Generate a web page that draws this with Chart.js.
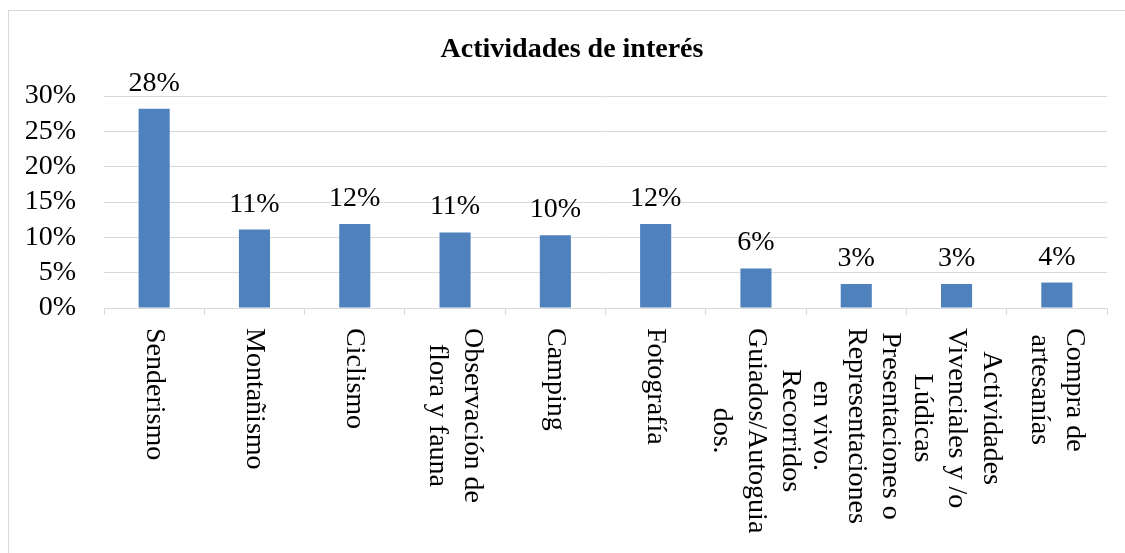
<!DOCTYPE html>
<html>
<head>
<meta charset="utf-8">
<script src="https://cdn.jsdelivr.net/npm/chart.js@4"></script>
<style>
    body { margin: 0; background: #ffffff; overflow: hidden; }
    .frame { position: absolute; left: 8px; top: 10px; width: 2000px; height: 2000px; border: 1px solid #d9d9d9; }
    .chart-container { position: absolute; left: 0; top: 0; width: 1125px; height: 553px; }
</style>
</head>
<body>
<div class="frame"></div>
<div class="chart-container"><canvas id="chart"></canvas></div>
<script>
var chartTitle = 'Actividades de interés';
var categories = [
    ['Senderismo'],
    ['Montañismo'],
    ['Ciclismo'],
    ['Observación de', 'flora y fauna'],
    ['Camping'],
    ['Fotografía'],
    ['Recorridos', 'Guiados/Autoguia', 'dos.'],
    ['Presentaciones o', 'Representaciones', 'en vivo.'],
    ['Actividades', 'Vivenciales y /o', 'Lúdicas'],
    ['Compra de', 'artesanías']
];
var values = [28.2, 11.1, 11.9, 10.7, 10.3, 11.9, 5.6, 3.4, 3.4, 3.6];
var yTicks = [0, 5, 10, 15, 20, 25, 30];

var serif = "'Liberation Serif', 'Times New Roman', serif";

// title, centred a bit left of the plot like the original
var titleText = {
    id: 'titleText',
    afterDraw: function (chart) {
        var ctx = chart.ctx;
        ctx.save();
        ctx.font = 'bold 28px ' + serif;
        ctx.fillStyle = '#000000';
        ctx.textAlign = 'center';
        ctx.textBaseline = 'alphabetic';
        ctx.fillText(chartTitle, 572, 57);
        ctx.restore();
    }
};

// value labels above each bar
var valueLabels = {
    id: 'valueLabels',
    afterDatasetsDraw: function (chart) {
        var ctx = chart.ctx;
        var meta = chart.getDatasetMeta(0);
        ctx.save();
        ctx.font = '28px ' + serif;
        ctx.fillStyle = '#000000';
        ctx.textAlign = 'center';
        ctx.textBaseline = 'alphabetic';
        meta.data.forEach(function (bar, i) {
            ctx.fillText(Math.round(values[i]) + '%', bar.x, bar.y - 18);
        });
        ctx.restore();
    }
};

// category labels turned clockwise, lines centred
var categoryLabels = {
    id: 'categoryLabels',
    afterDraw: function (chart) {
        var ctx = chart.ctx;
        var xScale = chart.scales.x;
        var lineHeight = 34.5;
        ctx.save();
        ctx.font = '28px ' + serif;
        ctx.fillStyle = '#000000';
        ctx.textAlign = 'center';
        ctx.textBaseline = 'middle';
        categories.forEach(function (lines, i) {
            var cx = xScale.getPixelForValue(i);
            var maxW = 0;
            lines.forEach(function (l) { maxW = Math.max(maxW, ctx.measureText(l).width); });
            ctx.save();
            ctx.translate(cx, xScale.top + 20);
            ctx.rotate(Math.PI / 2);
            lines.forEach(function (l, j) {
                ctx.fillText(l, maxW / 2, (j - (lines.length - 1) / 2) * lineHeight);
            });
            ctx.restore();
        });
        ctx.restore();
    }
};

window.onload = function () {
    var ctx = document.getElementById('chart').getContext('2d');
    new Chart(ctx, {
        type: 'bar',
        data: {
            labels: categories,
            datasets: [{
                data: values,
                backgroundColor: '#4f81bd',
                borderWidth: 0,
                barPercentage: 0.31,
                categoryPercentage: 1.0
            }]
        },
        options: {
            responsive: true,
            maintainAspectRatio: false,
            animation: false,
            layout: {
                padding: { left: 0, right: 18, top: 96, bottom: 0 }
            },
            plugins: {
                legend: { display: false },
                tooltip: { enabled: false },
                title: { display: false }
            },
            scales: {
                x: {
                    grid: {
                        display: true,
                        drawOnChartArea: false,
                        drawTicks: true,
                        tickLength: 7,
                        color: '#d9d9d9',
                        offset: true
                    },
                    border: { display: true, color: '#d9d9d9' },
                    ticks: { display: false },
                    afterFit: function (scale) { scale.height = 245; }
                },
                y: {
                    min: 0,
                    max: 30,
                    afterBuildTicks: function (scale) {
                        scale.ticks = yTicks.map(function (v) { return { value: v }; });
                    },
                    grid: { color: '#d9d9d9', drawTicks: false },
                    border: { display: false },
                    ticks: {
                        autoSkip: false,
                        padding: 28,
                        color: '#000000',
                        font: { family: serif, size: 28 },
                        callback: function (v) { return v + '%'; }
                    },
                    afterFit: function (scale) { scale.width = 104; }
                }
            }
        },
        plugins: [valueLabels, categoryLabels, titleText]
    });
};
</script>
</body>
</html>
